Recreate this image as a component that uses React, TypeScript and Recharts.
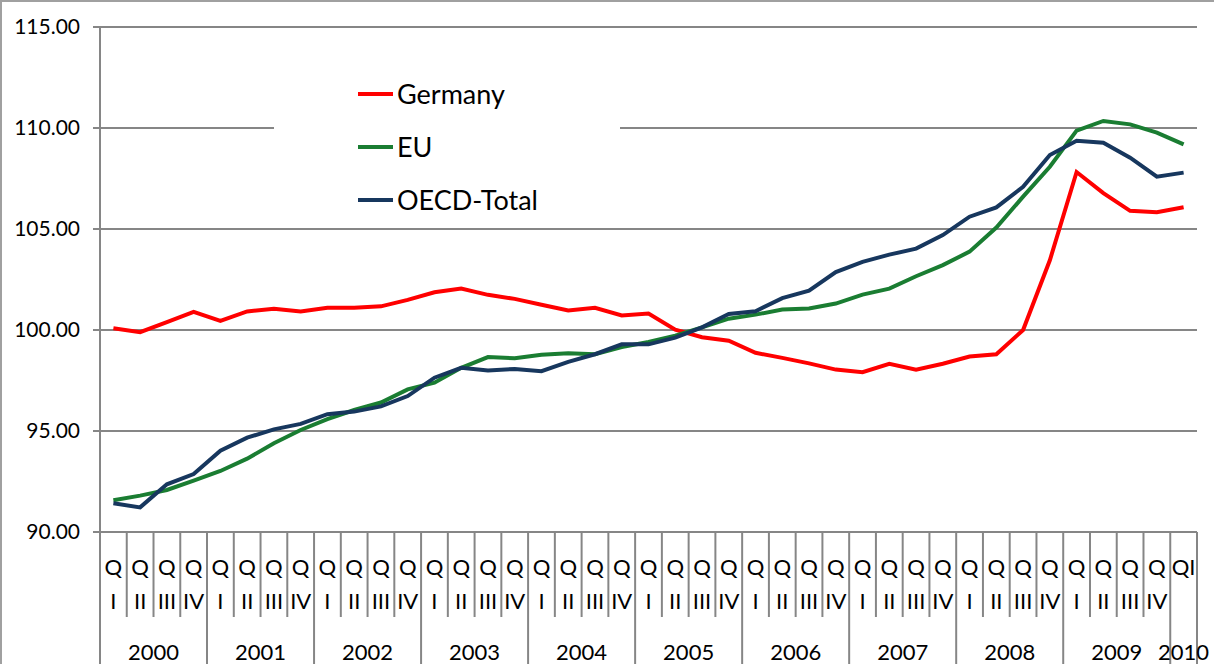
import React from 'react';
import { LineChart, Line, XAxis, YAxis, CartesianGrid, Legend } from 'recharts';

// quarters 2000 QI .. 2010 QI
const years = ['2000', '2001', '2002', '2003', '2004', '2005', '2006', '2007', '2008', '2009', '2010'];
const quarterNames = ['I', 'II', 'III', 'IV'];
const periods = years.flatMap((y) => (y === '2010' ? [`${y} I`] : quarterNames.map((q) => `${y} ${q}`)));

const germany = [
  100.09, 99.89, 100.39, 100.9, 100.45, 100.92, 101.05, 100.92, 101.1, 101.1, 101.17,
  101.49, 101.87, 102.05, 101.74, 101.54, 101.25, 100.97, 101.1, 100.72, 100.82, 100.02,
  99.64, 99.47, 98.87, 98.62, 98.35, 98.04, 97.91, 98.33, 98.04, 98.33, 98.69, 98.8,
  100.0, 103.45, 107.82, 106.78, 105.9, 105.83, 106.08,
];
const eu = [
  91.57, 91.8, 92.08, 92.54, 93.02, 93.63, 94.39, 95.05, 95.59, 96.04, 96.41, 97.06,
  97.39, 98.13, 98.66, 98.6, 98.78, 98.85, 98.8, 99.16, 99.41, 99.72, 100.13, 100.56,
  100.76, 101.01, 101.06, 101.31, 101.75, 102.05, 102.66, 103.21, 103.88, 105.07, 106.6,
  108.08, 109.87, 110.35, 110.18, 109.77, 109.19,
];
const oecd = [
  91.42, 91.22, 92.36, 92.87, 94.02, 94.67, 95.08, 95.35, 95.83, 95.96, 96.22, 96.73,
  97.64, 98.13, 98.0, 98.07, 97.96, 98.42, 98.8, 99.29, 99.29, 99.62, 100.13, 100.79,
  100.93, 101.58, 101.95, 102.87, 103.37, 103.73, 104.03, 104.7, 105.61, 106.07, 107.09,
  108.66, 109.37, 109.27, 108.53, 107.59, 107.79,
];
const yTicks = [90, 95, 100, 105, 110, 115];

const data = periods.map((period, i) => ({
  period,
  germany: germany[i],
  eu: eu[i],
  oecd: oecd[i],
}));

// legend follows the series order, not alphabetical
const seriesOrder = ['germany', 'eu', 'oecd'];

const WIDTH = 1214;
const HEIGHT = 664;
const MARGIN = { top: 27, right: 17, bottom: 0, left: 0 };
const Y_AXIS_W = 100;
const X_AXIS_H = 132;
const STEP = (WIDTH - MARGIN.right - Y_AXIS_W) / periods.length;
const HALF = STEP / 2;

const GRID = '#868686';
const FONT = 'Lato, "Open Sans", sans-serif';

const QuarterTick = (props: any) => {
  const { x, y, payload } = props;
  const index: number = props.index ?? payload.index;
  const [year, q] = String(payload.value).split(' ');
  const single = year === '2010';
  const isLast = index === periods.length - 1;
  const textStyle = { fontFamily: FONT, fontSize: 22, fill: '#000' };
  return (
    <g>
      <line
        x1={x - HALF}
        x2={x - HALF}
        y1={y}
        y2={q === 'I' ? y + X_AXIS_H : y + 85}
        stroke={GRID}
        strokeWidth={2}
      />
      {isLast && (
        <line x1={x + HALF} x2={x + HALF} y1={y} y2={y + X_AXIS_H} stroke={GRID} strokeWidth={2} />
      )}
      {single ? (
        <text x={x} y={y + 43} textAnchor="middle" {...textStyle}>
          QI
        </text>
      ) : (
        <>
          <text x={x} y={y + 43} textAnchor="middle" {...textStyle}>
            Q
          </text>
          <text x={x} y={y + 77} textAnchor="middle" {...textStyle}>
            {q}
          </text>
        </>
      )}
      {q === 'II' && (
        <text x={x + HALF} y={y + 128} textAnchor="middle" {...textStyle}>
          {year}
        </text>
      )}
      {single && (
        <text x={x} y={y + 128} textAnchor="middle" {...textStyle}>
          {year}
        </text>
      )}
    </g>
  );
};

const LegendBox = ({ payload }: any) => {
  const items = [...(payload || [])].sort(
    (a: any, b: any) => seriesOrder.indexOf(a.dataKey) - seriesOrder.indexOf(b.dataKey)
  );
  return (
    <div style={{ background: '#fff', width: 346, height: 159, position: 'relative', fontFamily: FONT }}>
      {items.map((entry: any, i: number) => (
        <div
          key={entry.value}
          style={{
            position: 'absolute',
            left: 84,
            top: i * 53,
            height: 53,
            display: 'flex',
            alignItems: 'center',
          }}
        >
          <span style={{ display: 'inline-block', width: 35, height: 4, background: entry.color }} />
          <span style={{ marginLeft: 4, fontSize: 27, color: '#000', whiteSpace: 'nowrap' }}>{entry.value}</span>
        </div>
      ))}
    </div>
  );
};

export default function App() {
  return (
    <div style={{ position: 'absolute', left: 0, top: 0, width: WIDTH, height: HEIGHT, background: '#fff', overflow: 'hidden' }}>
      <LineChart width={WIDTH} height={HEIGHT} data={data} margin={MARGIN}>
        <CartesianGrid horizontal vertical={false} stroke={GRID} strokeWidth={2} />
        <XAxis
          dataKey="period"
          interval={0}
          height={X_AXIS_H}
          padding={{ left: HALF, right: HALF }}
          axisLine={{ stroke: GRID, strokeWidth: 2 }}
          tickLine={false}
          tickSize={0}
          tickMargin={0}
          tick={<QuarterTick />}
        />
        <YAxis
          domain={[90, 115]}
          ticks={yTicks}
          width={Y_AXIS_W}
          allowDataOverflow
          tickFormatter={(v: number) => v.toFixed(2)}
          axisLine={{ stroke: GRID, strokeWidth: 2 }}
          tickLine={{ stroke: GRID, strokeWidth: 2 }}
          tickSize={7}
          tickMargin={13}
          tick={{ fill: '#000', fontSize: 21, fontFamily: FONT }}
        />
        <Legend
          layout="vertical"
          align="center"
          verticalAlign="middle"
          itemSorter={null as any}
          content={<LegendBox />}
          wrapperStyle={{ left: 274, top: 67, width: 346, height: 159 }}
        />
        <Line type="linear" dataKey="germany" name="Germany" stroke="#ff0000" strokeWidth={4} dot={false} isAnimationActive={false} />
        <Line type="linear" dataKey="eu" name="EU" stroke="#1a7d32" strokeWidth={4} dot={false} isAnimationActive={false} />
        <Line type="linear" dataKey="oecd" name="OECD-Total" stroke="#17375e" strokeWidth={4} dot={false} isAnimationActive={false} />
      </LineChart>
      <div
        style={{
          position: 'absolute',
          left: 0,
          top: 0,
          width: WIDTH,
          height: HEIGHT,
          boxSizing: 'border-box',
          borderTop: '2px solid #a0a0a0',
          borderLeft: '2px solid #a0a0a0',
          pointerEvents: 'none',
        }}
      />
    </div>
  );
}
